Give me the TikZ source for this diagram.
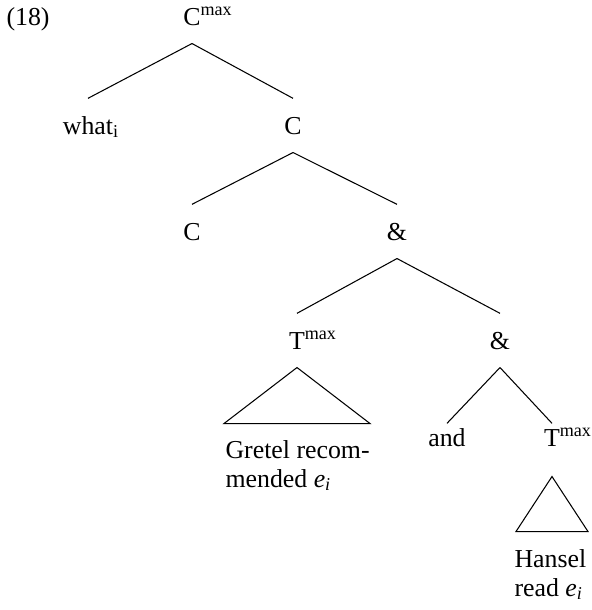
\documentclass[tikz,border=0pt]{standalone}
\usepackage{fontspec}
\setmainfont{Liberation Serif}

\begin{document}
\begin{tikzpicture}[line width=0.6pt,
font=\fontsize{14.7}{16.4}\selectfont,
cat/.style={anchor=base,inner xsep=0pt,inner ysep=0.36cm,
  text height=0.343cm,text depth=0pt},
leaf/.style={cat,inner ysep=0.1cm},
txt/.style={anchor=base west,inner sep=0pt,align=left}]
\useasboundingbox (0,0) rectangle (11.82,-12.2);

\node[anchor=base west,inner sep=0pt] (ex) at (0.12,-0.50) {(18)};
\node[cat] (cmax) at (3.84,-0.50) {C\rlap{\textsuperscript{max}}};
\node[cat] (what) at (1.76,-2.68) {what\rlap{\textsubscript{i}}};
\node[cat] (cbar) at (5.86,-2.68) {C};
\node[cat] (c) at (3.84,-4.80) {C};
\node[cat] (amp) at (7.94,-4.80) {\&};
\node[cat] (tl) at (5.94,-6.98) {T\rlap{\textsuperscript{max}}};
\node[cat] (ampbar) at (10.00,-6.98) {\&};
\node[leaf] (and) at (8.94,-8.92) {and};
\node[leaf] (tr) at (11.04,-8.92) {T\rlap{\textsuperscript{max}}};

\draw (cmax.south) -- (what.north);
\draw (cmax.south) -- (cbar.north);
\draw (cbar.south) -- (c.north);
\draw (cbar.south) -- (amp.north);
\draw (amp.south) -- (tl.north);
\draw (amp.south) -- (ampbar.north);
\draw (ampbar.south) -- (and.north);
\draw (ampbar.south) -- (tr.north);

\draw (tl.south) -- ++(-1.46,-1.12) -- ++(2.92,0) -- cycle;
\draw ([yshift=-0.5cm]tr.south) -- ++(-0.72,-1.10) -- ++(1.44,0) -- cycle;

\node[txt] (gretel) at (4.50,-9.74) {Gretel recom-\\mended \textit{e}\textsubscript{\itshape i}};
\node[txt] (hansel) at (10.28,-11.92) {Hansel\\read \textit{e}\textsubscript{\itshape i}};

\end{tikzpicture}
\end{document}
